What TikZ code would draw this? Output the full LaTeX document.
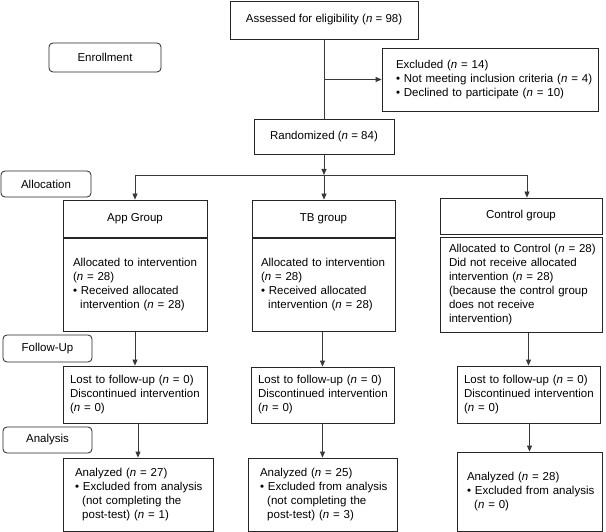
\documentclass[tikz,border=0pt]{standalone}
\usepackage{fontspec}
\setmainfont{Liberation Sans}
\usetikzlibrary{arrows.meta}
\newcommand{\itn}{\textit{n}}
\newcommand{\lns}[1]{\begin{tabular}{@{}l@{}}#1\end{tabular}}
\newcommand{\bul}{\textbullet\ }
\newcommand{\hng}{\hspace*{0.63em}}
\begin{document}
\begin{tikzpicture}[x=1pt,y=-1pt,
  box/.style={draw=black!85, line width=0.8pt, font=\fontsize{11.5}{14}\selectfont, inner sep=0pt},
  cbox/.style={box, align=center},
  lbox/.style={box, align=left},
  tag/.style={box, rounded corners=4pt},
  ln/.style={draw=black!78, line width=0.8pt},
  arr/.style={ln, -{Triangle[length=6pt,width=5pt]}}]
\fill[white] (0,0) rectangle (606,532);
\useasboundingbox (0,0) rectangle (606,532);

% enrollment
\node[cbox, minimum width=188, minimum height=38] (assess) at (324,20) {Assessed for eligibility (\itn\ = 98)};
\node[tag, minimum width=112, minimum height=29] (enroll) at (105,57.5) {Enrollment};
\node[lbox, minimum width=216, minimum height=63, text width=188pt, inner xsep=14pt] (excl) at (490,79.5)
  {\lns{Excluded (\itn\ = 14)\\ \bul Not meeting inclusion criteria (\itn\ = 4)\\ \bul Declined to participate (\itn\ = 10)}};
\node[cbox, minimum width=140, minimum height=35] (rand) at (324,136.5) {Randomized (\itn\ = 84)};

% allocation
\node[tag, minimum width=90, minimum height=26] (alloc) at (46,184) {Allocation};
\node[cbox, minimum width=144, minimum height=37] (apph) at (135,218.5) {App Group};
\node[lbox, minimum width=144, minimum height=93, text width=124pt, inner xsep=10pt] (appb) at (135,285)
  {\lns{Allocated to intervention\\ (\itn\ = 28)\\ \bul Received allocated\\ \hng intervention (\itn\ = 28)}};
\node[cbox, minimum width=143, minimum height=37] (tbh) at (323.5,218.5) {TB group};
\node[lbox, minimum width=143, minimum height=93, text width=125pt, inner xsep=9pt] (tbb) at (323.5,285)
  {\lns{Allocated to intervention\\ (\itn\ = 28)\\ \bul Received allocated\\ \hng intervention (\itn\ = 28)}};
\node[cbox, minimum width=162, minimum height=36] (ctlh) at (521,216) {Control group};
\node[lbox, minimum width=162, minimum height=95, text width=144pt, inner xsep=9pt] (ctlb) at (521,285)
  {\lns{Allocated to Control (\itn\ = 28)\\ Did not receive allocated\\ intervention (\itn\ = 28)\\ (because the control group\\ does not receive\\ intervention)}};

% follow-up
\node[tag, minimum width=89, minimum height=27] (fu) at (47.5,348.5) {Follow-Up};
\node[lbox, minimum width=144, minimum height=57, text width=130pt, inner xsep=7pt] (appfu) at (135,394.5)
  {\lns{Lost to follow-up (\itn\ = 0)\\ Discontinued intervention\\ (\itn\ = 0)}};
\node[lbox, minimum width=143, minimum height=56, text width=129pt, inner xsep=7pt] (tbfu) at (322.5,395)
  {\lns{Lost to follow-up (\itn\ = 0)\\ Discontinued intervention\\ (\itn\ = 0)}};
\node[lbox, minimum width=143, minimum height=57, text width=129pt, inner xsep=7pt] (ctlfu) at (528.5,394.5)
  {\lns{Lost to follow-up (\itn\ = 0)\\ Discontinued intervention\\ (\itn\ = 0)}};

% analysis
\node[tag, minimum width=89, minimum height=26] (an) at (47.5,440) {Analysis};
\node[lbox, minimum width=150, minimum height=73.5, text width=126pt, inner xsep=12pt] (appan) at (138,494.75)
  {\lns{Analyzed (\itn\ = 27)\\ \bul Excluded from analysis\\ \hng (not completing the\\ \hng post-test) (\itn\ = 1)}};
\node[lbox, minimum width=149, minimum height=73.5, text width=125pt, inner xsep=12pt] (tban) at (322.5,494.75)
  {\lns{Analyzed (\itn\ = 25)\\ \bul Excluded from analysis\\ \hng (not completing the\\ \hng post-test) (\itn\ = 3)}};
\node[lbox, minimum width=145, minimum height=79.5, text width=125pt, inner xsep=10pt] (ctlan) at (529.5,491.75)
  {\lns{Analyzed (\itn\ = 28)\\ \bul Excluded from analysis\\ \hng (\itn\ = 0)}};

% connectors
\coordinate (jc) at (324,175);
\coordinate (jl) at (135,175);
\coordinate (jr) at (527,175);
\draw[ln] (assess.south) -- (rand.north);
\draw[arr] (assess.south |- excl.west) -- (excl.west);
\draw[arr] (rand.south) -- (jc);
\draw[ln] (jl) -- (jr);
\draw[arr] (jl) -- (apph.north);
\draw[arr] (jc) -- (jc |- tbh.north);
\draw[arr] (jr) -- (jr |- ctlh.north);
\draw[arr] (appb.south) -- (appfu.north);
\draw[arr] (tbb.south -| tbfu.north) -- (tbfu.north);
\draw[arr] (ctlb.south -| ctlfu.north) -- (ctlfu.north);
\draw[arr] (appfu.south -| appan.north) -- (appan.north);
\draw[arr] (tbfu.south) -- (tban.north);
\draw[arr] (ctlfu.south -| ctlan.north) -- (ctlan.north);
\end{tikzpicture}
\end{document}
